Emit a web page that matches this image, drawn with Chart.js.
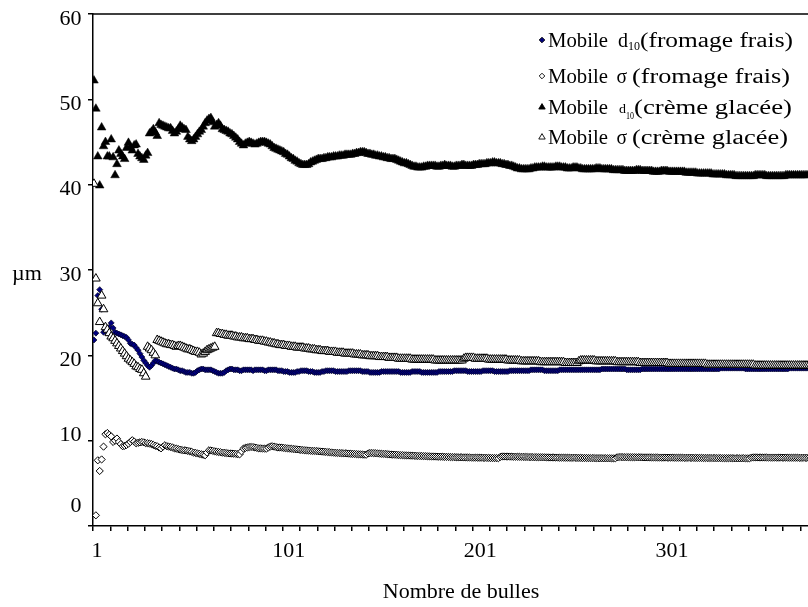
<!DOCTYPE html>
<html>
<head>
<meta charset="utf-8">
<title>Mobile d10 / sigma</title>
<script src="https://cdn.jsdelivr.net/npm/chart.js@4/dist/chart.umd.min.js"></script>
<style>
	html, body { margin: 0; padding: 0; background: #fff; overflow: hidden; }
	#wrap { width: 808px; height: 607px; overflow: hidden; }
</style>
</head>
<body>
<div id="wrap"><canvas id="bulles" width="850" height="607"></canvas></div>
<script>
// y tick labels, x tick labels
const yTicks = [0, 10, 20, 30, 40, 50, 60];
const xLabels = [1, 101, 201, 301];

const legendNames = ['Mobile d10(fromage frais)', 'Mobile \u03c3 (fromage frais)', 'Mobile d10(cr\u00e8me glac\u00e9e)', 'Mobile \u03c3 (cr\u00e8me glac\u00e9e)'];

// d10 fromage frais (bubble 1..384)
const d10Fromage = [
	21.8, 22.6, 27.0, 27.7, 25.4, 22.7, 22.9, 23.0, 23.3, 23.8,
	23.2, 22.7, 22.6, 22.5, 22.4, 22.3, 22.2, 22.1, 21.8, 21.4,
	21.3, 21.2, 20.9, 20.6, 20.2, 19.8, 19.4, 19.1, 18.8, 18.6,
	18.8, 19.1, 19.4, 19.3, 19.2, 19.1, 19.0, 18.9, 18.8, 18.7,
	18.6, 18.5, 18.4, 18.4, 18.3, 18.2, 18.2, 18.1, 18.0, 18.0,
	18.0, 17.9, 17.9, 18.0, 18.2, 18.3, 18.4, 18.4, 18.3, 18.3,
	18.3, 18.3, 18.2, 18.1, 18.0, 17.9, 17.9, 17.9, 18.0, 18.2,
	18.3, 18.4, 18.4, 18.3, 18.3, 18.3, 18.2, 18.2, 18.3, 18.3,
	18.3, 18.3, 18.3, 18.2, 18.3, 18.3, 18.3, 18.3, 18.3, 18.2,
	18.2, 18.3, 18.3, 18.3, 18.3, 18.3, 18.2, 18.2, 18.2, 18.1,
	18.1, 18.1, 18.0, 18.0, 18.0, 18.0, 18.1, 18.1, 18.2, 18.2,
	18.2, 18.2, 18.1, 18.1, 18.1, 18.0, 18.0, 18.0, 18.0, 18.1,
	18.1, 18.2, 18.2, 18.2, 18.2, 18.2, 18.1, 18.1, 18.1, 18.1,
	18.1, 18.1, 18.1, 18.2, 18.2, 18.2, 18.2, 18.2, 18.2, 18.2,
	18.1, 18.1, 18.1, 18.1, 18.0, 18.0, 18.0, 18.0, 18.0, 18.0,
	18.1, 18.1, 18.1, 18.1, 18.1, 18.1, 18.1, 18.1, 18.1, 18.1,
	18.0, 18.0, 18.0, 18.0, 18.0, 18.0, 18.1, 18.1, 18.1, 18.1,
	18.1, 18.0, 18.0, 18.0, 18.0, 18.0, 18.0, 18.0, 18.0, 18.0,
	18.1, 18.1, 18.1, 18.1, 18.1, 18.1, 18.1, 18.1, 18.2, 18.2,
	18.2, 18.2, 18.2, 18.2, 18.2, 18.1, 18.1, 18.1, 18.1, 18.1,
	18.1, 18.1, 18.1, 18.2, 18.2, 18.2, 18.2, 18.2, 18.2, 18.1,
	18.1, 18.1, 18.1, 18.1, 18.1, 18.1, 18.1, 18.2, 18.2, 18.2,
	18.2, 18.2, 18.2, 18.2, 18.2, 18.2, 18.2, 18.2, 18.3, 18.3,
	18.3, 18.3, 18.3, 18.3, 18.3, 18.2, 18.2, 18.2, 18.2, 18.2,
	18.2, 18.2, 18.2, 18.3, 18.3, 18.3, 18.3, 18.3, 18.3, 18.3,
	18.3, 18.3, 18.3, 18.3, 18.3, 18.3, 18.3, 18.3, 18.3, 18.3,
	18.3, 18.3, 18.3, 18.3, 18.3, 18.4, 18.4, 18.4, 18.4, 18.4,
	18.4, 18.4, 18.4, 18.4, 18.4, 18.4, 18.4, 18.4, 18.3, 18.3,
	18.3, 18.3, 18.3, 18.3, 18.3, 18.3, 18.4, 18.4, 18.4, 18.4,
	18.4, 18.4, 18.4, 18.4, 18.4, 18.4, 18.4, 18.4, 18.4, 18.4,
	18.4, 18.4, 18.4, 18.4, 18.4, 18.4, 18.4, 18.4, 18.4, 18.4,
	18.4, 18.4, 18.4, 18.4, 18.4, 18.4, 18.4, 18.4, 18.4, 18.4,
	18.4, 18.4, 18.4, 18.4, 18.4, 18.4, 18.4, 18.5, 18.5, 18.5,
	18.5, 18.5, 18.5, 18.5, 18.5, 18.5, 18.5, 18.5, 18.5, 18.5,
	18.4, 18.4, 18.4, 18.4, 18.4, 18.4, 18.4, 18.4, 18.4, 18.4,
	18.4, 18.4, 18.4, 18.4, 18.4, 18.4, 18.4, 18.4, 18.4, 18.4,
	18.4, 18.4, 18.4, 18.5, 18.5, 18.5, 18.5, 18.5, 18.5, 18.5,
	18.5, 18.5, 18.5, 18.5, 18.5, 18.5, 18.5, 18.5, 18.5, 18.5,
	18.5, 18.5, 18.5, 18.5
];

// sigma fromage frais
const sigmaFromage = [
	null, 1.25, 7.7, 6.45, 7.8, 9.3, 10.75, 10.9, 10.7, 10.5,
	9.85, 10.0, 10.25, 9.85, 9.6, 9.35, 9.4, 9.5, 9.65, 9.85,
	10.05, 9.9, 9.7, 9.75, 9.8, 9.85, 9.8, 9.7, 9.7, 9.65,
	9.6, 9.5, 9.4, 9.35, 9.2, 9.1, 9.3, 9.46, 9.35, 9.3,
	9.26, 9.2, 9.1, 9.07, 9.0, 8.95, 8.9, 8.87, 8.85, 8.8,
	8.75, 8.7, 8.6, 8.56, 8.5, 8.45, 8.4, 8.35, 8.29, 8.6,
	8.87, 8.85, 8.8, 8.75, 8.7, 8.67, 8.65, 8.6, 8.58, 8.55,
	8.52, 8.5, 8.49, 8.47, 8.45, 8.42, 8.4, 8.75, 9.07, 9.15,
	9.2, 9.25, 9.26, 9.25, 9.2, 9.15, 9.1, 9.1, 9.08, 9.07,
	9.07, 9.2, 9.3, 9.35, 9.3, 9.25, 9.2, 9.2, 9.18, 9.15,
	9.12, 9.1, 9.08, 9.05, 9.02, 9.0, 8.98, 8.95, 8.92, 8.9,
	8.88, 8.86, 8.84, 8.82, 8.8, 8.8, 8.78, 8.76, 8.74, 8.72,
	8.7, 8.68, 8.66, 8.64, 8.62, 8.6, 8.58, 8.56, 8.55, 8.54,
	8.53, 8.52, 8.5, 8.48, 8.46, 8.45, 8.44, 8.42, 8.4, 8.4,
	8.38, 8.36, 8.35, 8.5, 8.55, 8.55, 8.54, 8.52, 8.5, 8.48,
	8.46, 8.45, 8.44, 8.42, 8.4, 8.38, 8.36, 8.35, 8.34, 8.32,
	8.3, 8.3, 8.28, 8.27, 8.26, 8.25, 8.24, 8.23, 8.22, 8.21,
	8.2, 8.2, 8.19, 8.18, 8.17, 8.16, 8.15, 8.15, 8.14, 8.13,
	8.12, 8.12, 8.11, 8.1, 8.1, 8.09, 8.08, 8.08, 8.07, 8.06,
	8.06, 8.05, 8.05, 8.04, 8.04, 8.03, 8.03, 8.02, 8.02, 8.01,
	8.01, 8.0, 8.0, 7.99, 7.99, 7.98, 7.98, 7.97, 7.97, 7.96,
	7.96, 7.95, 8.1, 8.15, 8.15, 8.14, 8.14, 8.13, 8.13, 8.12,
	8.12, 8.11, 8.11, 8.1, 8.1, 8.09, 8.09, 8.08, 8.08, 8.07,
	8.07, 8.06, 8.06, 8.05, 8.05, 8.05, 8.04, 8.04, 8.03, 8.03,
	8.03, 8.02, 8.02, 8.01, 8.01, 8.01, 8.0, 8.0, 8.0, 7.99,
	7.99, 7.99, 7.98, 7.98, 7.98, 7.97, 7.97, 7.97, 7.96, 7.96,
	7.96, 7.96, 7.95, 7.95, 7.95, 7.95, 7.94, 7.94, 7.94, 7.94,
	7.93, 7.93, 7.93, 8.05, 8.08, 8.08, 8.07, 8.07, 8.07, 8.06,
	8.06, 8.06, 8.06, 8.05, 8.05, 8.05, 8.05, 8.04, 8.04, 8.04,
	8.04, 8.03, 8.03, 8.03, 8.03, 8.02, 8.02, 8.02, 8.02, 8.01,
	8.01, 8.01, 8.01, 8.0, 8.0, 8.0, 8.0, 8.0, 7.99, 7.99,
	7.99, 7.99, 7.99, 7.98, 7.98, 7.98, 7.98, 7.98, 7.97, 7.97,
	7.97, 7.97, 7.97, 7.96, 7.96, 7.96, 7.96, 7.96, 7.95, 7.95,
	7.95, 7.95, 7.95, 7.95, 7.94, 7.94, 7.94, 7.94, 7.94, 7.94,
	7.93, 7.93, 7.93, 8.02, 8.04, 8.04, 8.04, 8.03, 8.03, 8.03,
	8.03, 8.03, 8.02, 8.02, 8.02, 8.02, 8.02, 8.01, 8.01, 8.01,
	8.01, 8.01, 8.0, 8.0, 8.0, 8.0, 8.0, 8.0, 7.99, 7.99,
	7.99, 7.99, 7.99, 7.99, 7.98, 7.98, 7.98, 7.98, 7.98, 7.98,
	7.97, 7.97, 7.97, 7.97
];

// d10 creme glacee
const d10Glace = [
	52.2, 48.9, 43.3, 39.9, 46.7, 44.5, 45.0, 43.3, 43.3, 45.3,
	43.2, 41.1, 42.4, 44.0, 43.6, 43.3, 43.0, 44.3, 44.9, 44.4,
	44.0, 44.6, 44.7, 43.6, 43.3, 43.1, 42.9, 43.4, 43.7, 46.0,
	46.2, 46.5, 46.1, 45.7, 47.2, 47.0, 46.9, 46.8, 46.7, 46.6,
	46.6, 46.3, 46.0, 46.2, 46.5, 46.9, 46.7, 46.5, 46.4, 45.6,
	45.3, 45.1, 45.3, 45.6, 45.9, 46.2, 46.4, 46.8, 47.2, 47.5,
	47.7, 47.8, 47.3, 46.8, 47.0, 47.2, 46.9, 46.5, 46.4, 46.3,
	46.2, 46.0, 45.9, 45.7, 45.5, 45.3, 45.0, 44.8, 44.6, 44.8,
	44.9, 45.0, 44.9, 44.8, 44.7, 44.8, 44.9, 45.0, 45.0, 45.0,
	44.9, 44.8, 44.7, 44.5, 44.3, 44.2, 44.1, 44.0, 43.9, 43.8,
	43.6, 43.5, 43.3, 43.1, 43.0, 42.8, 42.7, 42.5, 42.4, 42.3,
	42.3, 42.3, 42.4, 42.6, 42.7, 42.8, 42.9, 43.0, 43.0, 43.0,
	43.1, 43.1, 43.2, 43.2, 43.2, 43.3, 43.3, 43.3, 43.4, 43.4,
	43.4, 43.5, 43.5, 43.5, 43.5, 43.6, 43.6, 43.7, 43.7, 43.8,
	43.8, 43.8, 43.7, 43.6, 43.6, 43.5, 43.5, 43.4, 43.4, 43.3,
	43.3, 43.2, 43.2, 43.1, 43.1, 43.0, 43.0, 43.0, 42.9, 42.8,
	42.7, 42.6, 42.5, 42.5, 42.4, 42.3, 42.2, 42.1, 42.1, 42.0,
	42.0, 42.0, 42.1, 42.1, 42.2, 42.2, 42.2, 42.2, 42.2, 42.1,
	42.1, 42.2, 42.2, 42.3, 42.2, 42.2, 42.2, 42.1, 42.1, 42.2,
	42.2, 42.2, 42.3, 42.3, 42.2, 42.2, 42.2, 42.2, 42.3, 42.3,
	42.3, 42.4, 42.4, 42.4, 42.4, 42.5, 42.5, 42.5, 42.6, 42.6,
	42.5, 42.5, 42.5, 42.4, 42.4, 42.3, 42.3, 42.2, 42.2, 42.1,
	42.0, 41.9, 41.9, 41.8, 41.8, 41.8, 41.8, 41.8, 41.9, 41.9,
	42.0, 42.0, 42.0, 42.0, 42.1, 42.1, 42.0, 42.0, 42.0, 42.0,
	42.0, 42.1, 42.1, 42.1, 42.0, 42.0, 42.0, 41.9, 41.9, 41.9,
	42.0, 42.0, 42.0, 41.9, 41.9, 41.8, 41.8, 41.8, 41.8, 41.8,
	41.8, 41.8, 41.9, 41.9, 41.9, 41.8, 41.8, 41.8, 41.8, 41.8,
	41.8, 41.7, 41.7, 41.7, 41.7, 41.7, 41.7, 41.6, 41.6, 41.6,
	41.6, 41.6, 41.6, 41.7, 41.7, 41.7, 41.6, 41.6, 41.6, 41.6,
	41.6, 41.6, 41.5, 41.5, 41.5, 41.5, 41.6, 41.6, 41.6, 41.6,
	41.5, 41.5, 41.5, 41.5, 41.5, 41.5, 41.5, 41.5, 41.5, 41.4,
	41.4, 41.4, 41.4, 41.4, 41.4, 41.3, 41.3, 41.3, 41.3, 41.3,
	41.3, 41.3, 41.3, 41.2, 41.2, 41.2, 41.2, 41.2, 41.2, 41.2,
	41.1, 41.1, 41.1, 41.1, 41.1, 41.0, 41.0, 41.0, 41.0, 41.0,
	41.0, 41.0, 41.0, 41.0, 41.0, 41.1, 41.1, 41.1, 41.1, 41.1,
	41.1, 41.0, 41.0, 41.0, 41.0, 41.0, 41.0, 41.0, 41.0, 41.0,
	41.0, 41.1, 41.1, 41.1, 41.1, 41.1, 41.1, 41.1, 41.1, 41.1,
	41.1, 41.1, 41.1, 41.2, 41.2, 41.2, 41.2, 41.2, 41.2, 41.2,
	41.2, 41.2, 41.2, 41.2
];

// sigma creme glacee
const sigmaGlace = [
	40.1, 29.0, 26.1, 23.9, 27.0, 25.4, 23.3, 23.0, 22.6, 22.2,
	22.0, 21.7, 21.4, 21.1, 20.8, 20.5, 20.2, 19.9, 19.6, 19.4,
	19.2, 19.0, 18.7, 18.6, 18.4, 18.3, 17.9, 17.5, 21.0, 20.8,
	20.6, 20.3, 20.0, 21.8, 21.7, 21.6, 21.5, 21.4, 21.3, 21.3,
	21.2, 21.2, 21.1, 21.0, 21.1, 21.1, 21.0, 20.9, 20.8, 20.7,
	20.7, 20.6, 20.5, 20.4, 20.4, 20.3, 20.1, 20.2, 20.4, 20.6,
	20.7, 20.8, 20.9, 21.0, 22.6, 22.6, 22.5, 22.5, 22.4, 22.4,
	22.3, 22.3, 22.3, 22.2, 22.2, 22.1, 22.1, 22.1, 22.0, 22.0,
	22.0, 21.9, 21.9, 21.9, 21.8, 21.8, 21.7, 21.7, 21.7, 21.6,
	21.6, 21.5, 21.5, 21.4, 21.4, 21.3, 21.3, 21.2, 21.2, 21.2,
	21.1, 21.1, 21.1, 21.0, 21.0, 21.0, 20.9, 20.9, 20.9, 20.9,
	20.8, 20.8, 20.8, 20.7, 20.7, 20.7, 20.6, 20.6, 20.6, 20.5,
	20.5, 20.5, 20.5, 20.4, 20.4, 20.4, 20.4, 20.3, 20.3, 20.3,
	20.3, 20.2, 20.2, 20.2, 20.2, 20.2, 20.1, 20.1, 20.1, 20.1,
	20.0, 20.0, 20.0, 20.0, 19.9, 19.9, 19.9, 19.9, 19.9, 19.8,
	19.8, 19.8, 19.8, 19.8, 19.7, 19.7, 19.7, 19.7, 19.7, 19.6,
	19.6, 19.6, 19.6, 19.6, 19.6, 19.6, 19.5, 19.5, 19.5, 19.5,
	19.5, 19.5, 19.5, 19.5, 19.5, 19.5, 19.5, 19.5, 19.4, 19.4,
	19.4, 19.4, 19.4, 19.4, 19.4, 19.4, 19.4, 19.4, 19.4, 19.4,
	19.4, 19.4, 19.4, 19.6, 19.7, 19.7, 19.7, 19.7, 19.7, 19.6,
	19.6, 19.6, 19.6, 19.6, 19.6, 19.6, 19.5, 19.5, 19.5, 19.5,
	19.5, 19.5, 19.5, 19.5, 19.5, 19.5, 19.4, 19.4, 19.4, 19.4,
	19.4, 19.4, 19.4, 19.3, 19.3, 19.3, 19.3, 19.3, 19.3, 19.3,
	19.3, 19.3, 19.3, 19.2, 19.2, 19.2, 19.2, 19.2, 19.2, 19.2,
	19.2, 19.2, 19.2, 19.2, 19.2, 19.2, 19.1, 19.1, 19.1, 19.1,
	19.1, 19.1, 19.1, 19.3, 19.4, 19.4, 19.4, 19.4, 19.4, 19.4,
	19.4, 19.4, 19.3, 19.3, 19.3, 19.3, 19.3, 19.3, 19.3, 19.3,
	19.3, 19.3, 19.3, 19.2, 19.2, 19.2, 19.2, 19.2, 19.2, 19.2,
	19.2, 19.2, 19.2, 19.2, 19.2, 19.1, 19.1, 19.1, 19.1, 19.1,
	19.1, 19.1, 19.1, 19.1, 19.1, 19.1, 19.1, 19.1, 19.1, 19.1,
	19.0, 19.0, 19.0, 19.0, 19.0, 19.0, 19.0, 19.0, 19.0, 19.0,
	19.0, 19.0, 19.0, 19.0, 19.0, 19.0, 19.0, 19.0, 19.0, 19.0,
	18.9, 18.9, 18.9, 18.9, 18.9, 18.9, 18.9, 18.9, 18.9, 18.9,
	18.9, 18.9, 18.9, 18.9, 18.9, 18.9, 18.9, 18.9, 18.9, 18.9,
	18.9, 18.9, 18.9, 18.9, 18.9, 18.8, 18.8, 18.8, 18.8, 18.8,
	18.8, 18.8, 18.8, 18.8, 18.8, 18.8, 18.8, 18.8, 18.8, 18.8,
	18.8, 18.8, 18.8, 18.8, 18.8, 18.8, 18.8, 18.8, 18.8, 18.8,
	18.8, 18.8, 18.8, 18.8, 18.8, 18.8, 18.8, 18.8, 18.8, 18.8,
	18.8, 18.8, 18.8, 18.8
];

const nBulles = d10Fromage.length;
const toPoints = arr => arr.map((v, i) => ({ x: i + 1, y: v }));

// small tick marks every 9 bubbles along the x axis
const xTickMarks = [];
for (let v = 0.5; v <= nBulles + 0.5; v += 9) xTickMarks.push(v);

const serif = '"Liberation Serif", "Times New Roman", serif';

// shifts of the y labels relative to their ticks
const yLabelShift = { 0: -19, 10: -5 };

// the lettering runs a little wide, so text is drawn stretched horizontally
function wideText(ctx, text, x, y, sx) {
	ctx.save();
	ctx.translate(x, y);
	ctx.scale(sx, 1);
	ctx.fillText(text, 0, 0);
	ctx.restore();
}

// text squeezed or stretched to run from x0 to x1
function fitText(ctx, text, x0, x1, y) {
	wideText(ctx, text, x0, y, (x1 - x0) / ctx.measureText(text).width);
}

function mark(ctx, kind, x, y, r, fill) {
	ctx.beginPath();
	if (kind === 'diamond') {
		ctx.moveTo(x - r, y); ctx.lineTo(x, y - r); ctx.lineTo(x + r, y); ctx.lineTo(x, y + r);
	} else {
		ctx.moveTo(x, y - r); ctx.lineTo(x + r * 0.95, y + r * 0.6); ctx.lineTo(x - r * 0.95, y + r * 0.6);
	}
	ctx.closePath();
	ctx.fillStyle = fill;
	ctx.fill();
	ctx.lineWidth = 0.9;
	ctx.strokeStyle = '#000';
	ctx.stroke();
}

// legend pieces: text, font size, baseline offset, left and right edge
const legendRows = [
	{ base: 47, kind: 'diamond', fill: '#000080', parts: [
		['Mobile', 20, 0, 548, 608], ['d', 20, 0, 618, 628], ['10', 13, 3, 628, 640], ['(fromage frais)', 20, 0, 640, 793]] },
	{ base: 83, kind: 'diamond', fill: '#fff', parts: [
		['Mobile', 20, 0, 548, 608], ['\u03c3', 20, 0, 616.5, 627], ['(fromage frais)', 20, 0, 632, 790]] },
	{ base: 114, kind: 'triangle', fill: '#000', parts: [
		['Mobile', 20, 0, 548, 608], ['d', 13, -1, 619, 626], ['10', 11, 5, 626, 634], ['(cr\u00e8me glac\u00e9e)', 20, 0, 634, 792]] },
	{ base: 144, kind: 'triangle', fill: '#fff', parts: [
		['Mobile', 20, 0, 548, 608], ['\u03c3', 20, 0, 616.5, 627], ['(cr\u00e8me glac\u00e9e)', 20, 0, 632, 788]] }
];

const decor = {
	id: 'decor',
	afterDraw(chart) {
		const { ctx, chartArea: a, scales: { x, y } } = chart;
		ctx.save();

		// plot frame (top and right edges)
		ctx.strokeStyle = '#000';
		ctx.lineWidth = 1.5;
		ctx.beginPath();
		ctx.moveTo(a.left, a.top); ctx.lineTo(a.right, a.top); ctx.lineTo(a.right, a.bottom);
		ctx.stroke();

		ctx.fillStyle = '#000';
		ctx.font = '20px ' + serif;
		ctx.textBaseline = 'middle';

		// y labels, right aligned
		ctx.textAlign = 'right';
		yTicks.forEach(v => {
			const shift = yLabelShift[v] !== undefined ? yLabelShift[v] : 5.5;
			wideText(ctx, String(v), a.left - 11.5, y.getPixelForValue(v) + shift, 1.1);
		});

		// x labels
		ctx.textAlign = 'center';
		xLabels.forEach(v => wideText(ctx, String(v), x.getPixelForValue(v) + 3, a.bottom + 26, 1.1));

		// axis titles
		wideText(ctx, 'Nombre de bulles', (a.left + a.right) / 2, 593, 1.1);
		wideText(ctx, '\u00b5m', 27, 275, 1.1);

		// legend
		ctx.textAlign = 'left';
		ctx.textBaseline = 'alphabetic';
		legendRows.forEach(row => {
			mark(ctx, row.kind, 542, row.base - 7, row.kind === 'diamond' ? 2.8 : 3.4, row.fill);
			ctx.fillStyle = '#000';
			row.parts.forEach(([t, size, dy, x0, x1]) => {
				ctx.font = size + 'px ' + serif;
				fitText(ctx, t, x0, x1, row.base + dy);
			});
		});

		ctx.restore();
	}
};

const axisGrid = { display: true, drawOnChartArea: false, drawTicks: true, tickLength: 5, color: '#000', lineWidth: 1.5 };
const axisBorder = { display: true, color: '#000', width: 1.5 };

new Chart(document.getElementById('bulles'), {
	type: 'scatter',
	data: {
		datasets: [
			{
				label: legendNames[0],
				data: toPoints(d10Fromage),
				pointStyle: 'rectRot',
				pointRadius: 3,
				backgroundColor: '#000080',
				borderColor: '#000020',
				borderWidth: 0.7,
				order: 3
			},
			{
				label: legendNames[1],
				data: toPoints(sigmaFromage),
				pointStyle: 'rectRot',
				pointRadius: 3.6,
				backgroundColor: '#fff',
				borderColor: '#000',
				borderWidth: 1,
				order: 2
			},
			{
				label: legendNames[2],
				data: toPoints(d10Glace),
				pointStyle: 'triangle',
				pointRadius: 5,
				backgroundColor: '#000',
				borderColor: '#000',
				borderWidth: 0.5,
				order: 1
			},
			{
				label: legendNames[3],
				data: toPoints(sigmaGlace),
				pointStyle: 'triangle',
				pointRadius: 5,
				backgroundColor: '#fff',
				borderColor: '#000',
				borderWidth: 1,
				order: 0
			}
		]
	},
	options: {
		responsive: false,
		devicePixelRatio: 1,
		animation: false,
		events: [],
		layout: { padding: { left: 88, top: 14, right: 21, bottom: 76 } },
		plugins: { legend: { display: false }, tooltip: { enabled: false } },
		scales: {
			x: {
				type: 'linear',
				min: 0.5,
				max: nBulles + 0.5,
				afterBuildTicks: s => { s.ticks = xTickMarks.map(v => ({ value: v })); },
				ticks: { display: false },
				grid: axisGrid,
				border: axisBorder
			},
			y: {
				min: 0,
				max: 60,
				afterBuildTicks: s => { s.ticks = yTicks.map(v => ({ value: v })); },
				ticks: { display: false },
				grid: axisGrid,
				border: axisBorder
			}
		}
	},
	plugins: [decor]
});
</script>
</body>
</html>
